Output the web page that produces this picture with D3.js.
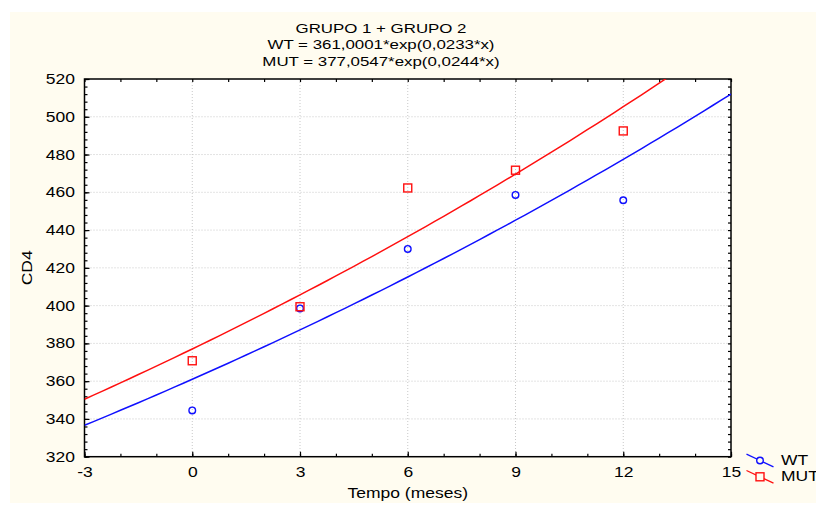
<!DOCTYPE html>
<html>
<head>
<meta charset="utf-8">
<script src="https://cdn.jsdelivr.net/npm/d3@7"></script>
<style>
  body { margin: 0; background: #fff; }
  text { font-family: "Liberation Sans", Arial, sans-serif; fill: #000; }
</style>
</head>
<body>
<svg width="816" height="505"></svg>
<script>
// data
const months = [0, 3, 6, 9, 12];
const wtValues = [344.5, 398.5, 430, 458.6, 455.8];
const mutValues = [370.8, 399.4, 462.3, 471.7, 492.5];
const xTicks = [-3, 0, 3, 6, 9, 12, 15];
const yTicks = [320, 340, 360, 380, 400, 420, 440, 460, 480, 500, 520];
// fitted models shown in the title: a*exp(b*x)
const wtFit = [361.0001, 0.0233];
const mutFit = [377.0547, 0.0244];
const titleLines = ['GRUPO 1 + GRUPO 2', 'WT = 361,0001*exp(0,0233*x)', 'MUT = 377,0547*exp(0,0244*x)'];

const svg = d3.select('svg');
const margin = { top: 79, left: 84.5 };
const innerWidth = 731 - margin.left;
const innerHeight = 456.7 - margin.top;
const stretch = 1.25; // the reference font is drawn wide

svg.append('rect')
  .attr('x', 10).attr('y', 12)
  .attr('width', 806).attr('height', 491)
  .attr('fill', '#fffcf0');

const xScale = d3.scaleLinear().domain([-3, 15]).range([0, innerWidth]);
const yScale = d3.scaleLinear().domain([320, 520]).range([innerHeight, 0]);

const g = svg.append('g')
  .attr('transform', `translate(${margin.left},${margin.top})`);

g.append('rect')
  .attr('width', innerWidth).attr('height', innerHeight)
  .attr('fill', '#fff');

g.append('clipPath').attr('id', 'clip')
  .append('rect').attr('width', innerWidth).attr('height', innerHeight);

// grid
g.append('g').selectAll('line').data(xTicks.slice(1, -1))
  .enter().append('line')
  .attr('x1', d => xScale(d)).attr('x2', d => xScale(d))
  .attr('y1', 0).attr('y2', innerHeight)
  .attr('stroke', '#c8c8c8').attr('stroke-dasharray', '1,2');
g.append('g').selectAll('line').data(yTicks.slice(1, -1))
  .enter().append('line')
  .attr('y1', d => yScale(d)).attr('y2', d => yScale(d))
  .attr('x1', 0).attr('x2', innerWidth)
  .attr('stroke', '#c8c8c8').attr('stroke-dasharray', '1,2');

// axes
const xMinor = d3.range(-3, 15.01, 1);
const yMinor = d3.range(320, 520.01, 4);

const styleAxis = sel => {
  sel.select('.domain').remove();
  sel.selectAll('.tick line').attr('stroke', '#000').attr('stroke-width', 1.2);
  sel.selectAll('.tick text')
    .style('font-family', '"Liberation Sans", Arial, sans-serif')
    .style('font-size', '14px');
};
const noLabels = sel => sel.selectAll('.tick text').remove();

g.append('g').attr('transform', `translate(0,${innerHeight})`)
  .call(d3.axisBottom(xScale).tickValues(xMinor).tickSize(-3))
  .call(styleAxis).call(noLabels);
const xAxisG = g.append('g').attr('transform', `translate(0,${innerHeight})`)
  .call(d3.axisBottom(xScale).tickValues(xTicks).tickSize(-5).tickPadding(10).tickFormat(d => String(d)))
  .call(styleAxis);
xAxisG.selectAll('.tick text').attr('transform', `scale(${stretch},1)`);

g.append('g')
  .call(d3.axisTop(xScale).tickValues(xMinor).tickSize(-3))
  .call(styleAxis).call(noLabels);

g.append('g')
  .call(d3.axisLeft(yScale).tickValues(yMinor).tickSize(-3))
  .call(styleAxis).call(noLabels);
const yAxisG = g.append('g')
  .call(d3.axisLeft(yScale).tickValues(yTicks).tickSize(-5).tickPadding(7.6).tickFormat(d => String(d)))
  .call(styleAxis);
yAxisG.selectAll('.tick text').attr('transform', `scale(${stretch},1)`);

g.append('g').attr('transform', `translate(${innerWidth},0)`)
  .call(d3.axisRight(yScale).tickValues(yMinor).tickSize(-3))
  .call(styleAxis).call(noLabels);

g.append('rect')
  .attr('width', innerWidth).attr('height', innerHeight)
  .attr('fill', 'none').attr('stroke', '#000').attr('stroke-width', 1.5);

// fitted curves
const curveX = d3.range(-3, 15.01, 0.25);
const line = d3.line().x(d => xScale(d[0])).y(d => yScale(d[1]));
const series = [
  { name: 'WT', color: '#1010ff', values: wtValues, fit: wtFit, shape: 'circle' },
  { name: 'MUT', color: '#ff1010', values: mutValues, fit: mutFit, shape: 'square' }
];

series.forEach(s => {
  g.append('path')
    .datum(curveX.map(x => [x, s.fit[0] * Math.exp(s.fit[1] * x)]))
    .attr('clip-path', 'url(#clip)')
    .attr('d', line)
    .attr('fill', 'none').attr('stroke', s.color).attr('stroke-width', 1.5);
});

const drawMarker = (sel, s) => {
  if (s.shape === 'circle') {
    sel.append('circle').attr('r', 3.3)
      .attr('fill', 'none').attr('stroke', s.color).attr('stroke-width', 1.4);
  } else {
    sel.append('rect').attr('x', -4).attr('y', -4).attr('width', 8).attr('height', 8)
      .attr('fill', 'none').attr('stroke', s.color).attr('stroke-width', 1.4);
  }
};

series.forEach(s => {
  g.append('g').selectAll('g').data(months)
    .enter().append('g')
    .attr('transform', (d, i) => `translate(${xScale(d)},${yScale(s.values[i])})`)
    .each(function () { drawMarker(d3.select(this), s); });
});

// titles
svg.append('g').selectAll('text').data(titleLines)
  .enter().append('text')
  .attr('transform', (d, i) => `translate(381,${32.5 + i * 16.7}) scale(${stretch},1)`)
  .attr('text-anchor', 'middle')
  .style('font-size', '13.5px')
  .text(d => d);

svg.append('text')
  .attr('transform', `translate(${margin.left + innerWidth / 2},498) scale(${stretch},1)`)
  .attr('text-anchor', 'middle')
  .style('font-size', '14px')
  .text('Tempo (meses)');

svg.append('text')
  .attr('transform', `translate(32,${margin.top + innerHeight / 2}) rotate(-90) scale(${stretch},1)`)
  .attr('text-anchor', 'middle')
  .style('font-size', '14px')
  .text('CD4');

// legend
const legend = svg.append('g');
series.forEach((s, i) => {
  const lg = legend.append('g').attr('transform', `translate(760,${460.5 + i * 16.3})`);
  lg.append('line')
    .attr('x1', -13.5).attr('y1', -6.3).attr('x2', 13.5).attr('y2', 6.3)
    .attr('stroke', s.color).attr('stroke-width', 1.3);
  const m = lg.append('g');
  drawMarker(m, s);
  m.selectAll('circle, rect').attr('fill', '#fffcf0');
  lg.append('text').attr('transform', `translate(21,4.5) scale(${stretch},1)`)
    .style('font-size', '14px')
    .text(s.name);
});
</script>
</body>
</html>
